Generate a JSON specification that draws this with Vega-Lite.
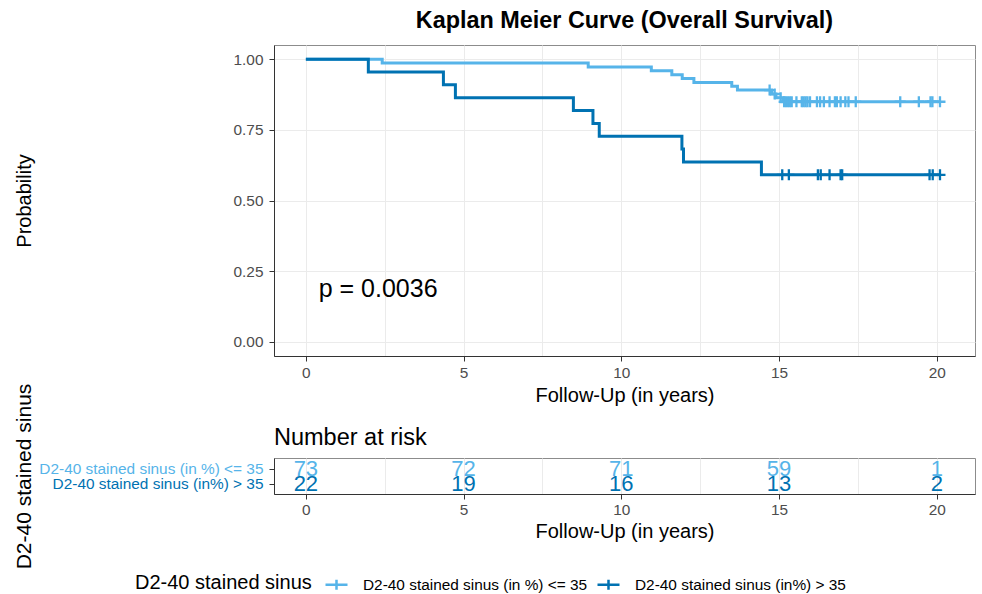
{
  "$schema": "https://vega.github.io/schema/vega-lite/v6.json",
  "background": "white",
  "padding": {"left": 12, "top": 8, "right": 9, "bottom": 0},
  "spacing": 102,
  "bounds": "flush",
  "config": {
    "font": "Liberation Sans",
    "view": {"stroke": "#8c8c8c", "strokeWidth": 1},
    "axis": {
      "labelFont": "Liberation Sans",
      "labelFontSize": 15.4,
      "labelColor": "#4d4d4d",
      "titleFont": "Liberation Sans",
      "titleFontSize": 20,
      "titleFontWeight": "normal",
      "titleColor": "#000000",
      "tickColor": "#333333",
      "tickSize": 5,
      "domainColor": "#333333",
      "gridColor": "#ebebeb",
      "gridWidth": 1,
      "labelPadding": 3
    },
    "title": {"font": "Liberation Sans", "color": "#000000"}
  },
  "datasets": {
    "curve": [
      {"group": "D2-40 stained sinus (in %) <= 35", "t": 0, "s": 1.0},
      {"group": "D2-40 stained sinus (in %) <= 35", "t": 2.42, "s": 0.9863},
      {"group": "D2-40 stained sinus (in %) <= 35", "t": 8.95, "s": 0.9726},
      {"group": "D2-40 stained sinus (in %) <= 35", "t": 10.95, "s": 0.9589},
      {"group": "D2-40 stained sinus (in %) <= 35", "t": 11.6, "s": 0.9452},
      {"group": "D2-40 stained sinus (in %) <= 35", "t": 11.93, "s": 0.9315},
      {"group": "D2-40 stained sinus (in %) <= 35", "t": 12.3, "s": 0.9178},
      {"group": "D2-40 stained sinus (in %) <= 35", "t": 13.5, "s": 0.9041},
      {"group": "D2-40 stained sinus (in %) <= 35", "t": 13.68, "s": 0.8904},
      {"group": "D2-40 stained sinus (in %) <= 35", "t": 14.76, "s": 0.8767},
      {"group": "D2-40 stained sinus (in %) <= 35", "t": 14.9, "s": 0.863},
      {"group": "D2-40 stained sinus (in %) <= 35", "t": 15.13, "s": 0.8493},
      {"group": "D2-40 stained sinus (in %) <= 35", "t": 20.1, "s": 0.8493},
      {"group": "D2-40 stained sinus (in%) > 35", "t": 0, "s": 1.0},
      {"group": "D2-40 stained sinus (in%) > 35", "t": 1.98, "s": 0.9545},
      {"group": "D2-40 stained sinus (in%) > 35", "t": 4.36, "s": 0.9091},
      {"group": "D2-40 stained sinus (in%) > 35", "t": 4.74, "s": 0.8636},
      {"group": "D2-40 stained sinus (in%) > 35", "t": 8.48, "s": 0.8182},
      {"group": "D2-40 stained sinus (in%) > 35", "t": 9.1, "s": 0.7727},
      {"group": "D2-40 stained sinus (in%) > 35", "t": 9.3, "s": 0.7273},
      {"group": "D2-40 stained sinus (in%) > 35", "t": 11.92, "s": 0.6818},
      {"group": "D2-40 stained sinus (in%) > 35", "t": 11.97, "s": 0.6364},
      {"group": "D2-40 stained sinus (in%) > 35", "t": 14.44, "s": 0.5909},
      {"group": "D2-40 stained sinus (in%) > 35", "t": 20.1, "s": 0.5909}
    ],
    "censor": [
      {"group": "D2-40 stained sinus (in %) <= 35", "t": 14.7, "s": 0.8904},
      {"group": "D2-40 stained sinus (in %) <= 35", "t": 14.86, "s": 0.8767},
      {"group": "D2-40 stained sinus (in %) <= 35", "t": 15.05, "s": 0.863},
      {"group": "D2-40 stained sinus (in %) <= 35", "t": 15.16, "s": 0.8493},
      {"group": "D2-40 stained sinus (in %) <= 35", "t": 15.22, "s": 0.8493},
      {"group": "D2-40 stained sinus (in %) <= 35", "t": 15.28, "s": 0.8493},
      {"group": "D2-40 stained sinus (in %) <= 35", "t": 15.34, "s": 0.8493},
      {"group": "D2-40 stained sinus (in %) <= 35", "t": 15.4, "s": 0.8493},
      {"group": "D2-40 stained sinus (in %) <= 35", "t": 15.55, "s": 0.8493},
      {"group": "D2-40 stained sinus (in %) <= 35", "t": 15.72, "s": 0.8493},
      {"group": "D2-40 stained sinus (in %) <= 35", "t": 15.78, "s": 0.8493},
      {"group": "D2-40 stained sinus (in %) <= 35", "t": 15.84, "s": 0.8493},
      {"group": "D2-40 stained sinus (in %) <= 35", "t": 15.9, "s": 0.8493},
      {"group": "D2-40 stained sinus (in %) <= 35", "t": 15.98, "s": 0.8493},
      {"group": "D2-40 stained sinus (in %) <= 35", "t": 16.2, "s": 0.8493},
      {"group": "D2-40 stained sinus (in %) <= 35", "t": 16.3, "s": 0.8493},
      {"group": "D2-40 stained sinus (in %) <= 35", "t": 16.42, "s": 0.8493},
      {"group": "D2-40 stained sinus (in %) <= 35", "t": 16.6, "s": 0.8493},
      {"group": "D2-40 stained sinus (in %) <= 35", "t": 16.77, "s": 0.8493},
      {"group": "D2-40 stained sinus (in %) <= 35", "t": 16.83, "s": 0.8493},
      {"group": "D2-40 stained sinus (in %) <= 35", "t": 16.95, "s": 0.8493},
      {"group": "D2-40 stained sinus (in %) <= 35", "t": 17.1, "s": 0.8493},
      {"group": "D2-40 stained sinus (in %) <= 35", "t": 17.2, "s": 0.8493},
      {"group": "D2-40 stained sinus (in %) <= 35", "t": 17.43, "s": 0.8493},
      {"group": "D2-40 stained sinus (in %) <= 35", "t": 18.84, "s": 0.8493},
      {"group": "D2-40 stained sinus (in %) <= 35", "t": 19.43, "s": 0.8493},
      {"group": "D2-40 stained sinus (in %) <= 35", "t": 19.8, "s": 0.8493},
      {"group": "D2-40 stained sinus (in %) <= 35", "t": 19.86, "s": 0.8493},
      {"group": "D2-40 stained sinus (in %) <= 35", "t": 20.1, "s": 0.8493},
      {"group": "D2-40 stained sinus (in%) > 35", "t": 15.1, "s": 0.5909},
      {"group": "D2-40 stained sinus (in%) > 35", "t": 15.31, "s": 0.5909},
      {"group": "D2-40 stained sinus (in%) > 35", "t": 16.23, "s": 0.5909},
      {"group": "D2-40 stained sinus (in%) > 35", "t": 16.32, "s": 0.5909},
      {"group": "D2-40 stained sinus (in%) > 35", "t": 16.6, "s": 0.5909},
      {"group": "D2-40 stained sinus (in%) > 35", "t": 16.95, "s": 0.5909},
      {"group": "D2-40 stained sinus (in%) > 35", "t": 17.0, "s": 0.5909},
      {"group": "D2-40 stained sinus (in%) > 35", "t": 19.77, "s": 0.5909},
      {"group": "D2-40 stained sinus (in%) > 35", "t": 19.87, "s": 0.5909},
      {"group": "D2-40 stained sinus (in%) > 35", "t": 20.1, "s": 0.5909}
    ],
    "risk": [
      {"group": "D2-40 stained sinus (in %) <= 35", "t": 0, "n": 73},
      {"group": "D2-40 stained sinus (in %) <= 35", "t": 5, "n": 72},
      {"group": "D2-40 stained sinus (in %) <= 35", "t": 10, "n": 71},
      {"group": "D2-40 stained sinus (in %) <= 35", "t": 15, "n": 59},
      {"group": "D2-40 stained sinus (in %) <= 35", "t": 20, "n": 1},
      {"group": "D2-40 stained sinus (in%) > 35", "t": 0, "n": 22},
      {"group": "D2-40 stained sinus (in%) > 35", "t": 5, "n": 19},
      {"group": "D2-40 stained sinus (in%) > 35", "t": 10, "n": 16},
      {"group": "D2-40 stained sinus (in%) > 35", "t": 15, "n": 13},
      {"group": "D2-40 stained sinus (in%) > 35", "t": 20, "n": 2}
    ],
    "pval": [
      {"t": 0.406, "s": 0.186, "label": "p = 0.0036"}
    ]
  },
  "vconcat": [
    {
      "width": 701,
      "height": 311,
      "title": {"text": "Kaplan Meier Curve (Overall Survival)", "fontSize": 23.4, "fontWeight": "bold", "anchor": "middle", "offset": 12},
      "layer": [
        {
          "data": {"name": "curve"},
          "mark": {"type": "line", "interpolate": "step-after", "strokeWidth": 3},
          "encoding": {
            "x": {
              "field": "t", "type": "quantitative",
              "scale": {"domain": [-1.01, 21.21], "nice": false, "zero": false},
              "axis": {
                "title": "Follow-Up (in years)",
                "values": [0, 2.5, 5, 7.5, 10, 12.5, 15, 17.5, 20],
                "labelExpr": "datum.value % 5 == 0 ? format(datum.value, 'd') : ''",
                "tickOpacity": {"condition": {"test": "datum.value % 5 != 0", "value": 0}, "value": 1},
                "labelPadding": 4,
                "titlePadding": 5
              }
            },
            "y": {
              "field": "s", "type": "quantitative",
              "scale": {"domain": [-0.05, 1.05], "nice": false, "zero": false},
              "axis": {
                "title": "Probability",
                "values": [0, 0.125, 0.25, 0.375, 0.5, 0.625, 0.75, 0.875, 1],
                "labelExpr": "(datum.value * 4) % 1 == 0 ? format(datum.value, '.2f') : ''",
                "tickOpacity": {"condition": {"test": "(datum.value * 4) % 1 != 0", "value": 0}, "value": 1},
                "labelPadding": 6,
                "titleX": -250,
                "titleBaseline": "middle"
              }
            },
            "color": {
              "field": "group", "type": "nominal",
              "scale": {"domain": ["D2-40 stained sinus (in %) <= 35", "D2-40 stained sinus (in%) > 35"], "range": ["#56B4E9", "#0072B2"]},
              "legend": {
                "orient": "none",
                "legendX": -139,
                "legendY": 527,
                "direction": "horizontal",
                "title": "D2-40 stained sinus",
                "titleOrient": "left",
                "titleFontSize": 20,
                "titleFontWeight": "normal",
                "titleColor": "#000000",
                "titlePadding": 12,
                "titleBaseline": "middle",
                "labelFontSize": 15.4,
                "labelColor": "#000000",
                "labelLimit": 400,
                "labelOffset": 14,
                "columnPadding": 4,
                "symbolType": "M-1,0H1M0,-0.45V0.45",
                "symbolSize": 484,
                "symbolStrokeWidth": 2.5,
                "symbolFillColor": "transparent"
              }
            }
          }
        },
        {
          "data": {"name": "censor"},
          "mark": {"type": "point", "shape": "M0,-1V1M-1,0H1", "filled": false, "size": 121, "strokeWidth": 2.3, "opacity": 1},
          "encoding": {
            "x": {"field": "t", "type": "quantitative"},
            "y": {"field": "s", "type": "quantitative"},
            "color": {"field": "group", "type": "nominal"}
          }
        },
        {
          "data": {"name": "pval"},
          "mark": {"type": "text", "align": "left", "baseline": "middle", "fontSize": 25, "color": "#000000"},
          "encoding": {
            "x": {"field": "t", "type": "quantitative"},
            "y": {"field": "s", "type": "quantitative"},
            "text": {"field": "label"}
          }
        }
      ]
    },
    {
      "width": 701,
      "height": 36,
      "title": {"text": "Number at risk", "anchor": "start", "frame": "group", "fontSize": 23.5, "fontWeight": "normal", "offset": -66},
      "data": {"name": "risk"},
      "mark": {"type": "text", "fontSize": 22, "baseline": "middle", "align": "center"},
      "encoding": {
        "x": {
          "field": "t", "type": "quantitative",
          "scale": {"domain": [-1.01, 21.21], "nice": false, "zero": false},
          "axis": {
            "title": "Follow-Up (in years)",
            "values": [0, 2.5, 5, 7.5, 10, 12.5, 15, 17.5, 20],
            "labelExpr": "datum.value % 5 == 0 ? format(datum.value, 'd') : ''",
            "tickOpacity": {"condition": {"test": "datum.value % 5 != 0", "value": 0}, "value": 1},
            "titlePadding": 4
          }
        },
        "y": {
          "field": "group", "type": "nominal",
          "scale": {"type": "point", "padding": 0.7, "domain": ["D2-40 stained sinus (in %) <= 35", "D2-40 stained sinus (in%) > 35"]},
          "axis": {
            "title": "D2-40 stained sinus",
            "titleFontSize": 21,
            "labelLimit": 400,
            "labelPadding": 6,
            "labelColor": {"condition": {"test": "datum.value === 'D2-40 stained sinus (in %) <= 35'", "value": "#56B4E9"}, "value": "#0072B2"},
            "titleX": -250,
            "titleBaseline": "middle"
          }
        },
        "text": {"field": "n", "type": "quantitative"},
        "color": {"field": "group", "type": "nominal"}
      }
    }
  ]
}
